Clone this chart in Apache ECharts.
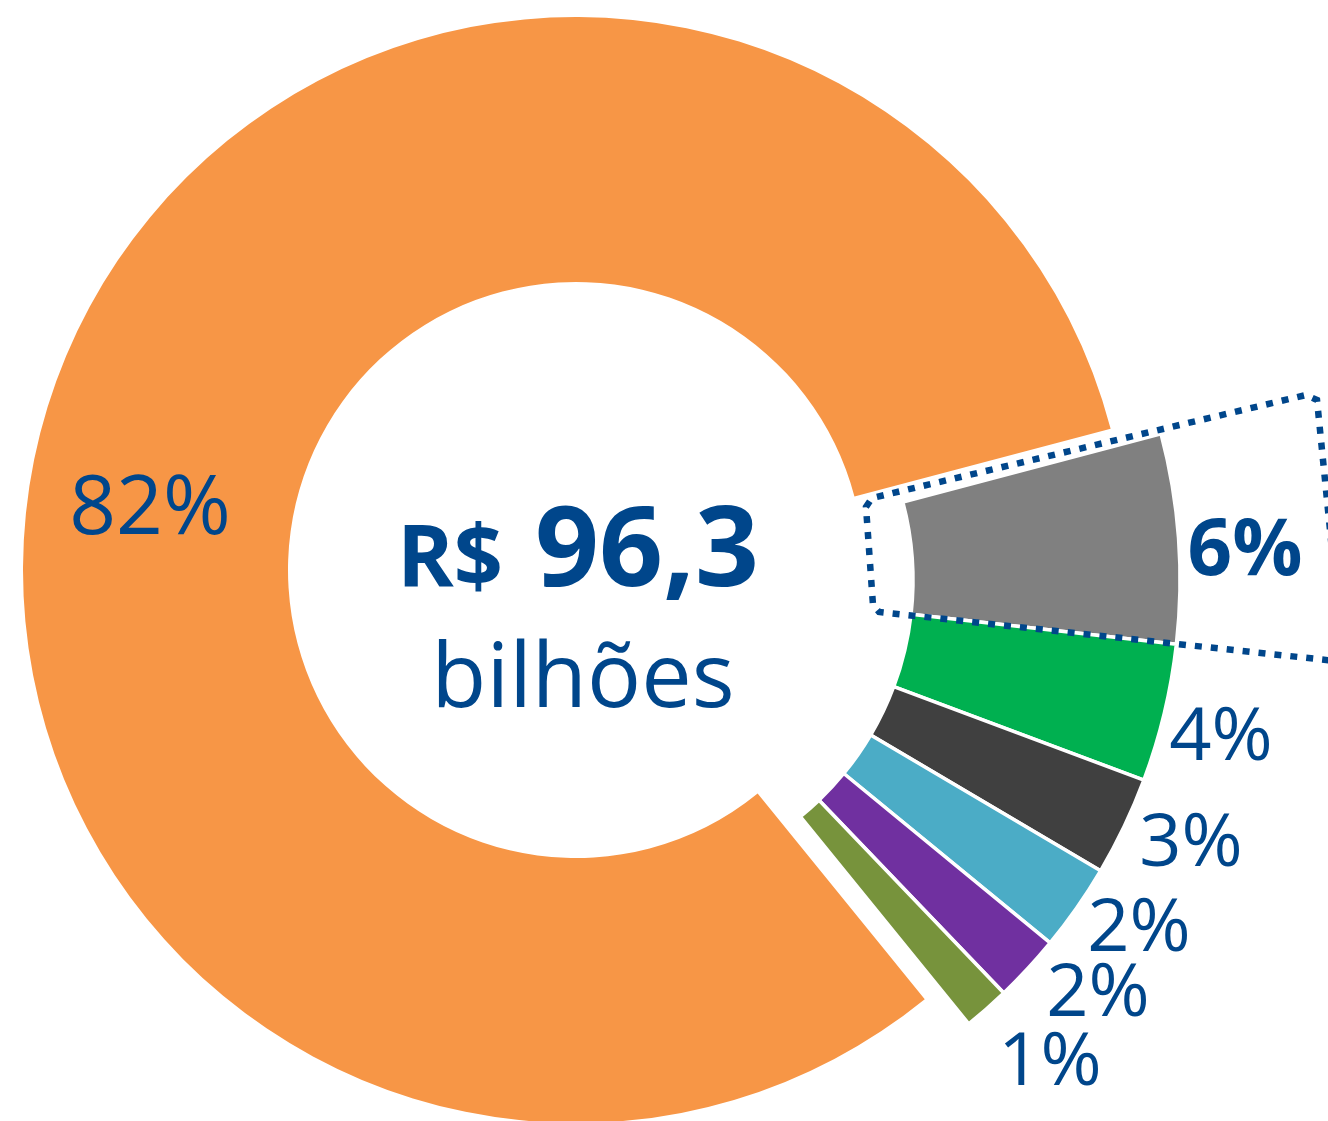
<!DOCTYPE html>
<html>
<head>
<meta charset="utf-8">
<script src="https://cdn.jsdelivr.net/npm/echarts@6/dist/echarts.min.js"></script>
<style>
  html, body { margin: 0; padding: 0; background: #fff; }
  #chart { width: 1328px; height: 1121px; }
</style>
</head>
<body>
<div id="chart"></div>
<script>
// 数据（从图上读取的估计值，%）
const categories = ['Fatia 1', 'Fatia 2', 'Fatia 3', 'Fatia 4', 'Fatia 5', 'Fatia 6', 'Fatia 7'];
const shares = [5.9, 3.9, 2.8, 2.45, 1.9, 1.3, 81.75];
const sliceColors = ['#808080', '#00B050', '#404040', '#4BACC6', '#7030A0', '#77933C', '#F79646'];
const totalPrefix = 'R$';
const totalValue = '96,3';
const totalUnit = 'bilhões';

const BLUE = '#00468B';
const FONT = '"Open Sans", "Noto Sans", sans-serif';
const MAIN = shares.length - 1; // 大扇区
const HIGHLIGHT = 0;            // 加粗 + 虚线框的扇区
const START = 14.8;

// 标签中心位置
const labelSpots = [[1245, 553], [1221, 739], [1191, 845], [1139, 930], [1098, 995], [1050, 1064], [150, 511]];

const chart = echarts.init(document.getElementById('chart'));

// showMain=true -> 只画大扇区；false -> 只画小扇区
function buildData(showMain) {
  return shares.map((v, i) => {
    const visible = (i === MAIN) === showMain;
    return {
      name: categories[i],
      value: v,
      itemStyle: visible
        ? { color: sliceColors[i] }
        : { color: 'rgba(0,0,0,0)', borderWidth: 0 },
      label: {
        show: showMain, // 所有标签都放在第一个系列上
        fontWeight: i === HIGHLIGHT ? 'bold' : 'normal',
        fontSize: i === MAIN ? 82 : (i === HIGHLIGHT ? 78 : 74)
      }
    };
  });
}

const labelOpt = {
  position: 'inside',
  color: BLUE,
  fontFamily: FONT,
  formatter: p => Math.round(p.value) + '%'
};

const option = {
  backgroundColor: '#fff',
  animation: false,
  series: [
    {
      name: 'principal',
      type: 'pie',
      center: [576, 570],
      radius: [288, 553],
      startAngle: START,
      clockwise: true,
      avoidLabelOverlap: false,
      silent: true,
      emphasis: { disabled: true },
      label: labelOpt,
      labelLine: { show: false },
      labelLayout: params => {
        const p = labelSpots[params.dataIndex];
        return { x: p[0], y: p[1], align: 'center', verticalAlign: 'middle' };
      },
      data: buildData(true)
    },
    {
      name: 'demais',
      type: 'pie',
      center: [608, 580],
      radius: [305, 572],
      startAngle: START,
      clockwise: true,
      avoidLabelOverlap: false,
      silent: true,
      emphasis: { disabled: true },
      itemStyle: { borderColor: '#fff', borderWidth: 3.5 },
      label: { show: false },
      labelLine: { show: false },
      data: buildData(false)
    }
  ],
  graphic: [
    // 虚线框
    {
      type: 'polyline',
      z: 100,
      shape: {
        points: [[1345, 662], [879, 612], [873, 605], [866, 507], [872, 498],
                 [1306, 395], [1317, 400], [1333, 560]]
      },
      style: { fill: null, stroke: BLUE, lineWidth: 6.5, lineDash: [7, 9] }
    },
    // 中心文字
    {
      type: 'text', z: 100, x: 503, y: 562,
      style: { text: totalPrefix, fill: BLUE, font: 'bold 86px ' + FONT, align: 'right', verticalAlign: 'middle' }
    },
    {
      type: 'text', z: 100, x: 535, y: 554,
      style: { text: totalValue, fill: BLUE, font: 'bold 112px ' + FONT, align: 'left', verticalAlign: 'middle' }
    },
    {
      type: 'text', z: 100, x: 583, y: 681,
      style: { text: totalUnit, fill: BLUE, font: '90px ' + FONT, align: 'center', verticalAlign: 'middle' }
    }
  ]
};

chart.setOption(option);
</script>
</body>
</html>
